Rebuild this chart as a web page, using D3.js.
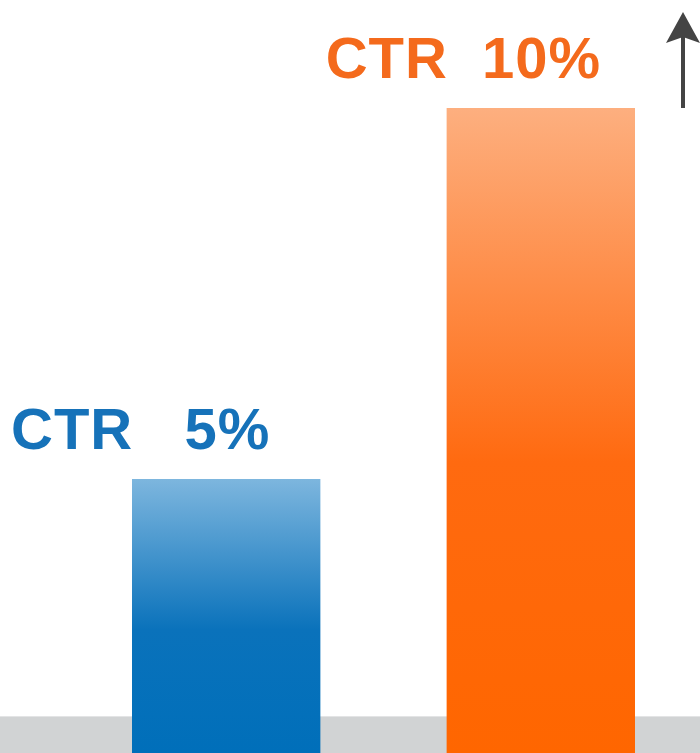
<!DOCTYPE html>
<html>
<head>
<meta charset="utf-8">
<script src="https://cdn.jsdelivr.net/npm/d3@7"></script>
<style>
  html, body { margin: 0; padding: 0; background: #fff; }
  svg { display: block; }
</style>
</head>
<body>
<svg id="chart"></svg>
<script>
// data
const categories = ["before", "after"]
const ctrValues = [5, 10]
const labelTexts = ["CTR   5%", "CTR  10%"]
const barColors = [["#7db6de", "#0a72bb", "#006fba"], ["#fdaf7f", "#ff6a10", "#ff6600"]]
const textColors = ["#1672b9", "#f46a1c"]

const width = 700, height = 753

const svg = d3.select('#chart')
  .attr('width', width)
  .attr('height', height)

const defs = svg.append('defs')
categories.forEach((c, i) => {
  const g = defs.append('linearGradient')
    .attr('id', 'grad-' + c)
    .attr('x1', 0).attr('y1', 0).attr('x2', 0).attr('y2', 1)
  g.append('stop').attr('offset', '0%').attr('stop-color', barColors[i][0])
  g.append('stop').attr('offset', '55%').attr('stop-color', barColors[i][1])
  g.append('stop').attr('offset', '100%').attr('stop-color', barColors[i][2])
})

// scales
const xScale = d3.scaleBand()
  .domain(categories)
  .range([132, 635])
  .paddingInner(0.4013)
  .paddingOuter(0)

// zero sits below the visible area, bars run off the bottom
const yScale = d3.scaleLinear()
  .domain([0, 10])
  .range([850, 108])

// grey floor band
svg.append('rect')
  .attr('x', 0)
  .attr('y', 716)
  .attr('width', width)
  .attr('height', height - 716)
  .attr('fill', '#d1d3d4')
svg.append('line')
  .attr('x1', 0).attr('x2', width)
  .attr('y1', 716.5).attr('y2', 716.5)
  .attr('stroke', '#e3e4e5')
  .attr('stroke-width', 1)

const barGroups = svg.selectAll('.barGroup')
  .data(categories)
  .enter()
  .append('g')
  .attr('class', 'barGroup')

barGroups.append('rect')
  .attr('x', d => xScale(d))
  .attr('y', (d, i) => yScale(ctrValues[i]))
  .attr('width', xScale.bandwidth())
  .attr('height', (d, i) => height - yScale(ctrValues[i]))
  .attr('fill', d => `url(#grad-${d})`)

barGroups.append('text')
  .attr('x', d => xScale(d) - 121)
  .attr('y', (d, i) => yScale(ctrValues[i]) - 30)
  .attr('fill', (d, i) => textColors[i])
  .attr('font-family', 'Liberation Sans, Arial, sans-serif')
  .attr('font-weight', 'bold')
  .attr('font-size', 58)
  .attr('letter-spacing', 1)
  .attr('xml:space', 'preserve')
  .style('white-space', 'pre')
  .text((d, i) => labelTexts[i])

// arrow on the right
const arrowX = 683
svg.append('line')
  .attr('x1', arrowX).attr('x2', arrowX)
  .attr('y1', yScale(10)).attr('y2', 36)
  .attr('stroke', '#444')
  .attr('stroke-width', 4)
svg.append('path')
  .attr('d', `M${arrowX},12 L${arrowX + 17},43 L${arrowX},37 L${arrowX - 17},43 Z`)
  .attr('fill', '#444')
</script>
</body>
</html>
